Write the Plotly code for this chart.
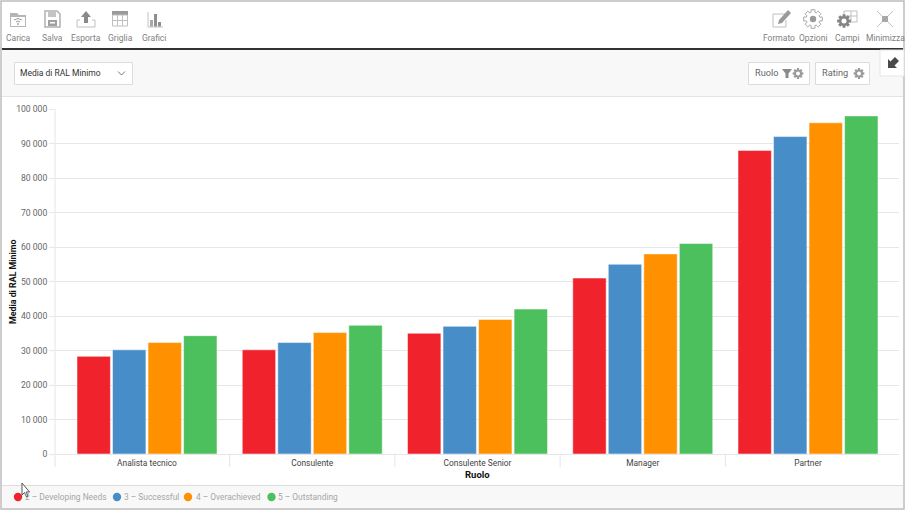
import math
import plotly.graph_objects as go

# Data
categories = ['Analista tecnico', 'Consulente', 'Consulente Senior', 'Manager', 'Partner']
series_names = ['2 – Developing Needs', '3 – Successful', '4 – Overachieved', '5 – Outstanding']
series_colors = ['#f0232d', '#478dc8', '#ff9000', '#4cc05c']
developing = [28300, 30200, 35000, 51000, 88000]
successful = [30200, 32300, 37000, 55000, 92000]
overachieved = [32300, 35200, 39000, 58000, 96000]
outstanding = [34300, 37300, 42000, 61000, 98000]
series_values = [developing, successful, overachieved, outstanding]
y_ticks = [0, 10000, 20000, 30000, 40000, 50000, 60000, 70000, 80000, 90000, 100000]

W, H = 905, 510
L, R, T, B = 55, 6, 109, 56
FONT = 'Roboto'
ICON = '#9a9a9a'

fig = go.Figure()
for name, values, color in zip(series_names, series_values, series_colors):
    fig.add_trace(go.Bar(x=categories, y=values, name=name, marker_color=color,
                         marker_line=dict(color='rgba(255,255,255,0.5)', width=1)))


# pixel position on the page -> paper coordinates, for the app chrome around the chart
def px(x):
    return (x - L) / (W - L - R)


def py(y):
    return 1 - (y - T) / (H - T - B)


shapes = []
notes = []


def rect(x0, y0, x1, y1, fill='rgba(0,0,0,0)', line=None, width=1, layer='below'):
    shapes.append(dict(type='rect', xref='paper', yref='paper', layer=layer,
                       x0=px(x0), y0=py(y0), x1=px(x1), y1=py(y1), fillcolor=fill,
                       line=dict(color=line or 'rgba(0,0,0,0)', width=width if line else 0)))


def circle(cx, cy, r, fill, layer='above'):
    shapes.append(dict(type='circle', xref='paper', yref='paper', layer=layer,
                       x0=px(cx - r), y0=py(cy - r), x1=px(cx + r), y1=py(cy + r),
                       fillcolor=fill, line=dict(width=0)))


def path(points, fill=None, line=None, width=1, close=True):
    d = 'M' + ' L'.join(f'{px(x):.5f},{py(y):.5f}' for x, y in points) + (' Z' if close else '')
    shapes.append(dict(type='path', xref='paper', yref='paper', layer='above', path=d,
                       fillcolor=fill or 'rgba(0,0,0,0)',
                       line=dict(color=line or 'rgba(0,0,0,0)', width=width if line else 0)))


def text(x, y, s, size=10, color='#777777', anchor='center', angle=0):
    notes.append(dict(text=s, xref='paper', yref='paper', x=px(x), y=py(y), xanchor=anchor,
                      yanchor='middle', showarrow=False, textangle=angle, borderpad=0, borderwidth=0,
                      font=dict(family=FONT, size=size, color=color)))


def gear_points(cx, cy, r):
    pts = []
    for i in range(8):
        a = i * math.pi / 4
        for da, rr in [(-0.30, 0.72), (-0.20, 1.0), (0.20, 1.0), (0.30, 0.72)]:
            pts.append((cx + rr * r * math.cos(a + da), cy + rr * r * math.sin(a + da)))
    return pts


def gear(cx, cy, r, fill=ICON, hole='#ffffff'):
    path(gear_points(cx, cy, r), fill=fill)
    circle(cx, cy, r * 0.36, hole)


# frame and bands
rect(0, 0, W, H, fill='#ffffff')
rect(2, 50, 903, 96, fill='#f8f8f8')
rect(2, 486, 903, 508, fill='#f8f8f8')
rect(2, 96, 903, 97, fill='#e4e4e4')
rect(2, 485, 903, 486, fill='#dddddd')
rect(2, 48, 903, 50, fill='#333333')
rect(1, 1, 904, 509, line='#bdbdbd', width=1.5)

# toolbar labels
for x, s in [(18, 'Carica'), (52, 'Salva'), (86, 'Esporta'), (120, 'Griglia'), (154, 'Grafici'),
             (779, 'Formato'), (813, 'Opzioni'), (847, 'Campi'), (885, 'Minimizza')]:
    text(x, 38, s, size=8.5, color='#808080')

# Carica
path([(10, 13), (17, 13), (19, 15), (26, 15), (26, 27), (10, 27)], fill='#b5b5b5')
path([(11, 17), (25, 17), (25, 26), (11, 26)], fill='#ffffff')
path([(14, 20), (18, 18.5), (22, 20)], line=ICON, close=False)
path([(16, 22), (18, 21), (20, 22)], line=ICON, close=False)
circle(18, 24, 0.9, ICON)
# Salva
path([(45, 11), (57, 11), (60, 14), (60, 27), (45, 27)], line='#b0b0b0', width=1.5, fill='#ffffff')
rect(48, 12, 56, 17, fill='#c4c4c4', layer='above')
rect(48, 20, 57, 26, fill='#a0a0a0', layer='above')
rect(50, 22, 55, 23.5, fill='#ffffff', layer='above')
# Esporta
path([(86, 11), (91, 17), (88, 17), (88, 23), (84, 23), (84, 17), (81, 17)], fill='#8a8a8a')
path([(80, 20), (77, 20), (77, 27), (95, 27), (95, 20), (92, 20)], line='#c0c0c0', close=False)
# Griglia
rect(112, 11, 128, 15, fill='#9a9a9a', layer='above')
rect(112.5, 15, 127.5, 26, line='#c0c0c0', layer='above')
for gx in (117.5, 122.5):
    path([(gx, 15), (gx, 26)], line='#c0c0c0', close=False)
path([(112, 20.5), (128, 20.5)], line='#c0c0c0', close=False)
# Grafici
path([(148, 12), (148, 27), (163, 27)], line='#c0c0c0', close=False)
rect(150, 20, 153, 26.5, fill='#a8a8a8', layer='above')
rect(154, 14, 157, 26.5, fill='#8f8f8f', layer='above')
rect(158, 22, 161, 26.5, fill='#8f8f8f', layer='above')

# Formato
path([(785, 14), (773, 14), (773, 27), (786, 27), (786, 20)], line='#c0c0c0', close=False)
path([(778, 24), (779, 20), (788, 10), (791, 13), (782, 23)], fill='#9a9a9a')
# Opzioni
path(gear_points(813, 19, 9.5), line='#a8a8a8', fill='#ffffff')
circle(813, 19, 3.2, '#9a9a9a')
# Campi
for gx in (844, 851, 857):
    path([(gx, 11), (gx, 22)], line='#c0c0c0', close=False)
for gy in (11, 16, 22):
    path([(844, gy), (857, gy)], line='#c0c0c0', close=False)
gear(844, 21, 7, fill='#858585')
# Minimizza
rect(882, 16, 888, 22, fill='#a8a8a8', layer='above')
for x0, y0, x1, y1 in [(877, 11, 882, 16), (893, 11, 888, 16), (877, 27, 882, 22), (893, 27, 888, 22)]:
    path([(x0, y0), (x1, y1)], line='#c0c0c0', close=False)

# control bar
rect(14.5, 62.5, 132.5, 84.5, fill='#ffffff', line='#dcdcdc')
text(20, 72.5, 'Media di RAL Minimo', size=8.5, color='#333333', anchor='left')
path([(118, 71.5), (121.5, 75), (125, 71.5)], line='#777777', close=False)
rect(748.5, 62.5, 809.5, 84.5, fill='#ffffff', line='#dcdcdc')
text(755, 72.5, 'Ruolo', size=9.2, color='#666666', anchor='left')
path([(782, 69), (792, 69), (788.5, 73.5), (788.5, 78), (785.5, 78), (785.5, 73.5)], fill='#8a8a8a')
gear(798, 73.5, 5.5, hole='#ffffff')
rect(815.5, 62.5, 869.5, 84.5, fill='#ffffff', line='#dcdcdc')
text(822, 72.5, 'Rating', size=9.2, color='#666666', anchor='left')
gear(859, 73.5, 5.5, hole='#ffffff')
rect(880, 50, 904, 76, fill='#ffffff', line='#e6e6e6', layer='above')
path([(888, 68), (888, 59), (890.5, 61.5), (895, 57), (899, 61), (894.5, 65.5), (897, 68)], fill='#4a4a4a')

# separators under the category axis, left end of the axis
for i in range(len(categories) - 1):
    shapes.append(dict(type='line', xref='x', yref='paper', x0=i + 0.5, x1=i + 0.5,
                       y0=0, y1=py(467), line=dict(color='#e6e6e6', width=1)))
rect(54.5, 109, 55.5, 467, fill='#e6e6e6')

# legend strip
for cx, tx, name, color in zip([18, 117, 188, 271.5], [24.5, 124, 195.5, 278], series_names, series_colors):
    circle(cx, 497, 4.2, color)
    text(tx, 496.5, name, size=8.4, color='#a6a6a6', anchor='left')

# axis titles, placed by hand so they do not push the plot margin
text(13, 282, '<b>Media di RAL Minimo</b>', size=8.8, color='#111111', angle=-90)
text(477, 474, '<b>Ruolo</b>', size=9.5, color='#111111')

# mouse pointer
path([(22, 483), (22, 495), (24.5, 492.5), (26.5, 497), (28, 496.3), (26.2, 492), (29.5, 492)],
     fill='#ffffff', line='#555555', width=1)

fig.update_layout(
    width=W, height=H, autosize=False,
    margin=dict(l=L, r=R, t=T, b=B, pad=0),
    paper_bgcolor='#ffffff', plot_bgcolor='rgba(0,0,0,0)',
    font=dict(family=FONT, size=10, color='#333333'),
    barmode='group', bargap=0.14, bargroupgap=0.06,
    showlegend=False, separators='. ',
    shapes=shapes, annotations=notes,
)
fig.update_xaxes(type='category', range=[-0.5567, 4.5507], showgrid=False, automargin=False,
                 showline=True, linecolor='#e6e6e6', linewidth=1, ticks='', ticklen=0,
                 ticklabelstandoff=1,
                 tickfont=dict(size=8.4, color='#444444'), fixedrange=True)
fig.update_yaxes(range=[0, 100000], tickvals=y_ticks, tickformat=',d', automargin=False,
                 showgrid=True, gridcolor='#e6e6e6', gridwidth=1, zeroline=False,
                 ticks='outside', ticklen=5, tickcolor='#e6e6e6',
                 tickfont=dict(size=8.6, color='#666666'), fixedrange=True)

fig.write_html('out.html', config={'displayModeBar': False},
               post_script="document.body.style.margin='0';")
